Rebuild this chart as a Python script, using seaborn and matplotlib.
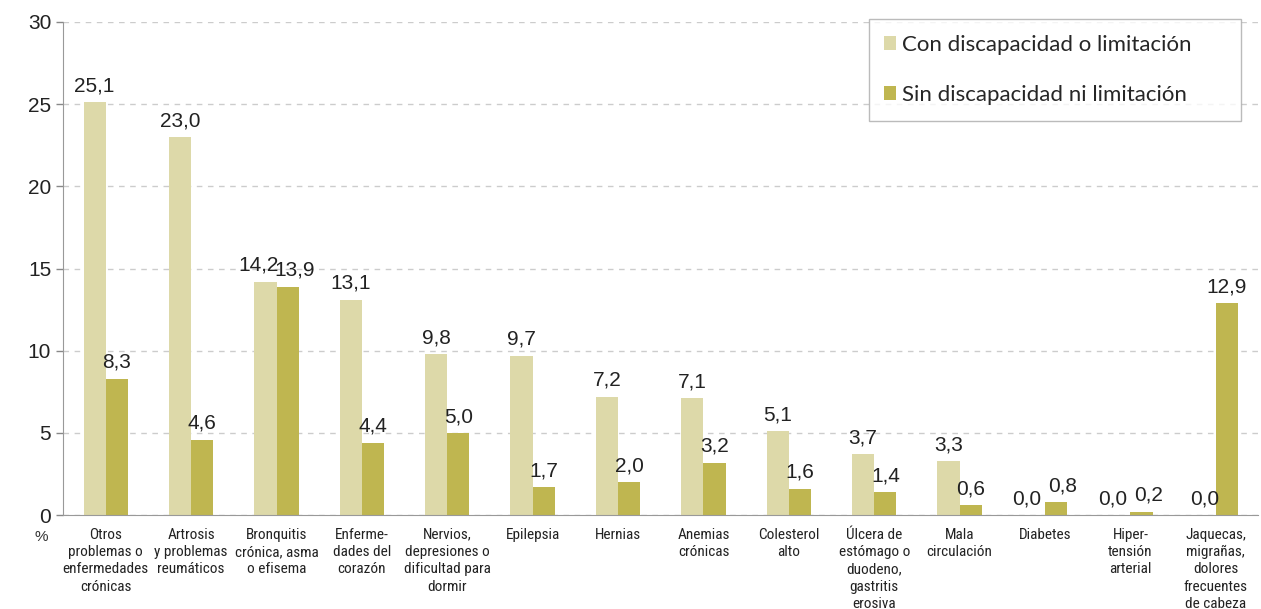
import pandas as pd
import seaborn as sns
import matplotlib.pyplot as plt
from matplotlib import font_manager as fm

categorias = ["Otros\nproblemas o\nenfermedades\ncrónicas", "Artrosis\ny problemas\nreumáticos",
              "Bronquitis\ncrónica, asma\no efisema", "Enferme-\ndades del\ncorazón",
              "Nervios,\ndepresiones o\ndificultad para\ndormir", "Epilepsia", "Hernias",
              "Anemias\ncrónicas", "Colesterol\nalto", "Úlcera de\nestómago o\nduodeno,\ngastritis\nerosiva",
              "Mala\ncirculación", "Diabetes", "Hiper-\ntensión\narterial",
              "Jaquecas,\nmigrañas,\ndolores\nfrecuentes\nde cabeza"]
con_disc = [25.1, 23.0, 14.2, 13.1, 9.8, 9.7, 7.2, 7.1, 5.1, 3.7, 3.3, 0.0, 0.0, 0.0]
sin_disc = [8.3, 4.6, 13.9, 4.4, 5.0, 1.7, 2.0, 3.2, 1.6, 1.4, 0.6, 0.8, 0.2, 12.9]
series = ["Con discapacidad o limitación", "Sin discapacidad ni limitación"]

df = pd.DataFrame({"cat": categorias * 2,
                   "valor": con_disc + sin_disc,
                   "serie": [series[0]] * 14 + [series[1]] * 14})

sns.set_style("white")
plt.rcParams['font.family'] = ['Liberation Sans', 'DejaVu Sans']

# narrow font for the category labels, whatever condensed face is installed
names = {f.name for f in fm.fontManager.ttflist}
narrow = [n for n in ["Liberation Sans Narrow", "Roboto Condensed", "Open Sans Condensed",
                      "Noto Sans Condensed"] if n in names]
if narrow:
    tick_font = dict(family=[narrow[0], "DejaVu Sans"], fontsize=11)
else:
    tick_font = dict(family=["DejaVu Sans"], fontstretch="condensed", fontsize=9.5)

fig = plt.figure(figsize=(12.61, 6.09), dpi=100)
ax = fig.add_axes([0.05, 0.154, 0.948, 0.81])
sns.barplot(data=df, x="cat", y="valor", hue="serie", palette=["#ddd9a9", "#bfb650"],
            saturation=1, width=0.52, gap=0, linewidth=0, ax=ax, legend=True)

anns = []
for cont in ax.containers:
    labels = [f"{v:.1f}".replace(".", ",") for v in cont.datavalues]
    anns.append(ax.bar_label(cont, labels=labels, padding=5, fontsize=15, color="#222222"))

# pull apart labels of pairs with close heights
for i in range(len(categorias)):
    if abs(con_disc[i] - sin_disc[i]) < 1.5:
        anns[0][i].xyann = (-5, anns[0][i].xyann[1])
        anns[1][i].xyann = (5, anns[1][i].xyann[1])

ax.set_ylim(0, 30)
ax.set_xlim(-0.5, 13.5)
ax.set_yticks(range(0, 31, 5))
ax.yaxis.grid(True, linestyle=(0, (4, 4)), color="#cccccc", linewidth=1)
ax.set_axisbelow(True)
ax.set_xlabel("")
ax.set_ylabel("")
ax.tick_params(axis="y", labelsize=15, length=5, width=1, left=True, colors="#888888")
for t in ax.get_yticklabels():
    t.set_color("#222222")
ax.set_xticks([i + 0.5 for i in range(-1, 14)], minor=True)
ax.tick_params(axis="x", which="major", length=0, pad=9)
ax.tick_params(axis="x", which="minor", length=5, color="#999999", direction="out")
ax.set_xticklabels(categorias, color="#222222", linespacing=1.3, va="top", **tick_font)
for s in ["top", "right"]:
    ax.spines[s].set_visible(False)
ax.spines["left"].set_color("#999999")
ax.spines["bottom"].set_color("#999999")

ax.text(-0.018, -0.045, "%", transform=ax.transAxes, fontsize=11, color="#333333",
        ha="center", va="center")

handles, leg_labels = ax.get_legend_handles_labels()
leg = ax.legend(handles, [l + "\u2003\u2003" for l in leg_labels],
                loc="upper right", bbox_to_anchor=(0.985, 1.005), frameon=True, fancybox=False,
                handlelength=0.55, handleheight=0.55, handletextpad=0.25,
                labelspacing=1.35, borderpad=0.7, borderaxespad=0,
                prop={"family": ["Lato", "DejaVu Sans"], "size": 16})
leg.get_frame().set_edgecolor("#aaaaaa")
leg.get_frame().set_linewidth(1)

plt.savefig("out.png", dpi=100)
